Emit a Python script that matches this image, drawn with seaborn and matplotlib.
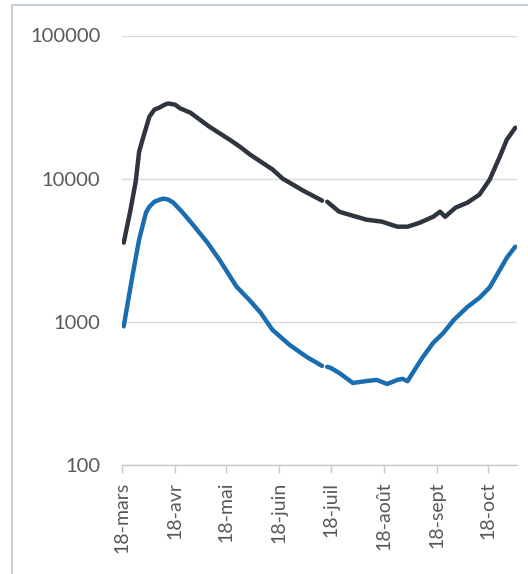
import pandas as pd
import matplotlib.pyplot as plt
from matplotlib.ticker import NullLocator
from matplotlib.patches import Rectangle
import seaborn as sns

start_date = pd.Timestamp('2020-03-19')

# day offsets from 19 March and values
dark_days = [0, 4, 7, 9, 11, 15, 18, 21, 24, 26,
             30, 33, 39, 50, 62, 68, 74, 87, 93, 105,
             115, 116, 119, 126, 134, 142, 151, 160, 166, 173,
             181, 185, 188, 194, 201, 208, 214, 220, 224, 229]
dark_values = [3570, 6070, 9530, 15400, 18700, 27100, 30400, 31400, 32900, 33500,
               32900, 31000, 28900, 23100, 18700, 16700, 14700, 11600, 10000, 8240,
               7130, 7020, 6900, 5880, 5510, 5170, 5010, 4620, 4620, 4920,
               5420, 5880, 5420, 6270, 6800, 7730, 9840, 14300, 18700, 22700]

blue_days = [0, 5, 9, 13, 15, 18, 21, 23, 26, 29,
             34, 39, 49, 56, 66, 74, 80, 87, 97, 107,
             115, 116, 119, 121, 126, 134, 142, 148, 154, 157,
             160, 163, 166, 169, 175, 181, 187, 193, 201, 208,
             214, 220, 224, 229]
blue_values = [930, 2060, 3750, 5790, 6370, 6910, 7130, 7250, 7150, 6800,
               5880, 5010, 3570, 2710, 1760, 1400, 1160, 879, 690, 569,
               500, 492, 485, 477, 440, 374, 386, 393, 368, 380,
               393, 400, 385, 440, 569, 713, 838, 1030, 1270, 1470,
               1740, 2310, 2800, 3350]

# missing days around 14 juillet (gap in both lines)
gap_day = 117

tick_dates = ['2020-03-18', '2020-04-18', '2020-05-18', '2020-06-18',
              '2020-07-18', '2020-08-18', '2020-09-18', '2020-10-18']
tick_labels = ['18-mars', '18-avr', '18-mai', '18-juin',
               '18-juil', '18-août', '18-sept', '18-oct']
y_ticks = [100, 1000, 10000, 100000]
y_labels = ['100', '1000', '10000', '100000']


def make_df(days, values):
    df = pd.DataFrame({'day': days, 'value': values})
    df['date'] = start_date + pd.to_timedelta(df['day'], unit='D')
    df['seg'] = (df['day'] > gap_day).astype(int)
    return df


dark_df = make_df(dark_days, dark_values)
blue_df = make_df(blue_days, blue_values)

sns.set_theme(style='white')
plt.rcParams['font.family'] = ['Lato', 'DejaVu Sans']

fig = plt.figure(figsize=(5.28, 5.74), dpi=100)
ax = fig.add_axes([122 / 528, 1 - 465 / 574, (517 - 122) / 528, (465 - 35.5) / 574])

sns.lineplot(data=dark_df, x='date', y='value', units='seg', estimator=None,
             color='#2f353f', linewidth=3.2, ax=ax, legend=False,
             solid_capstyle='round', solid_joinstyle='round')
sns.lineplot(data=blue_df, x='date', y='value', units='seg', estimator=None,
             color='#1a6eb0', linewidth=3.2, ax=ax, legend=False,
             solid_capstyle='round', solid_joinstyle='round')

ax.set_yscale('log')
ax.set_ylim(100, 100000)
ax.set_yticks(y_ticks)
ax.set_yticklabels(y_labels)
ax.yaxis.set_minor_locator(NullLocator())

ax.set_xlim(pd.Timestamp('2020-03-18'), pd.Timestamp('2020-11-04'))
ax.set_xticks(pd.to_datetime(tick_dates))
ax.set_xticklabels(tick_labels)
ax.xaxis.set_minor_locator(NullLocator())

ax.set_xlabel('')
ax.set_ylabel('')
ax.grid(axis='y', color='#d9d9d9', linewidth=1)
ax.grid(axis='x', visible=False)
for side in ['left', 'right', 'top']:
    ax.spines[side].set_visible(False)
ax.spines['bottom'].set_color('#c8c8c8')
ax.spines['bottom'].set_linewidth(1)

ax.tick_params(axis='y', length=0, pad=15.5, labelsize=14.5, labelcolor='#595959')
ax.tick_params(axis='x', length=6, width=1, color='#c8c8c8', pad=6,
               labelsize=14, labelcolor='#595959', labelrotation=90, bottom=True)

# light frame around the chart
fig.add_artist(Rectangle((12 / 528, -0.1), 1.2, 1.1 - 5 / 574,
                         transform=fig.transFigure, fill=False,
                         edgecolor='#c5cdd5', linewidth=1.5))

fig.savefig('out.png', dpi=100)
